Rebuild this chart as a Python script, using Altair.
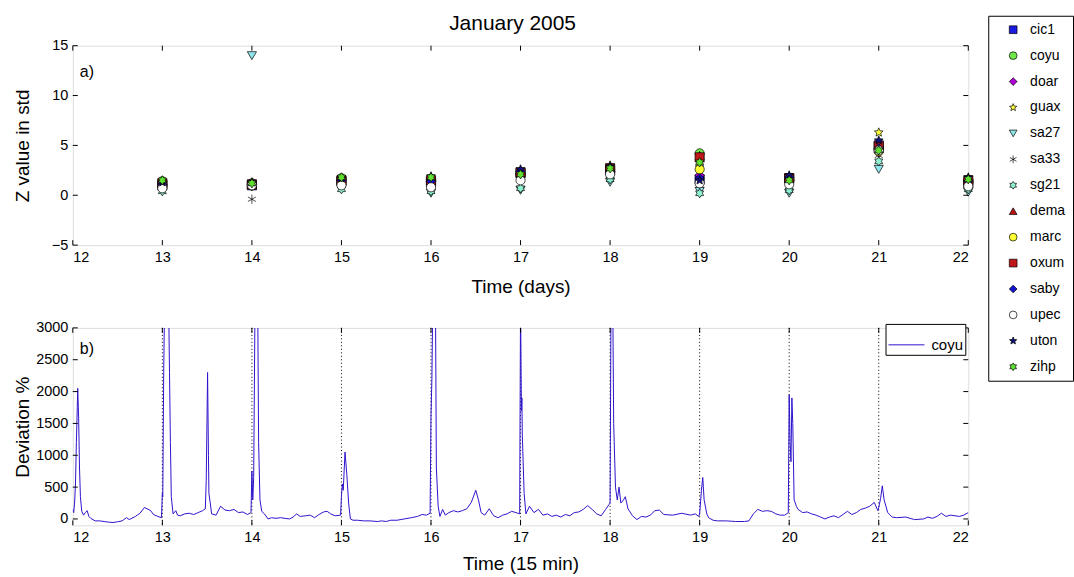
import math
import altair as alt
import pandas as pd

FONT = "Liberation Sans"

# ---------------- top panel data (Z values per station per day) ----------------
days = [13, 14, 15, 16, 17, 18, 19, 20, 21, 22]
stations = ["cic1", "coyu", "doar", "guax", "sa27", "sa33", "sg21",
            "dema", "marc", "oxum", "saby", "upec", "uton", "zihp"]
z_cic1 = [1.0, 1.0, 1.4, 1.3, 2.2, 2.5, 1.6, 1.7, 5.0, 1.2]
z_coyu = [1.4, 1.2, 1.7, 1.6, 2.1, 2.6, 4.2, 1.6, 4.6, 1.5]
z_doar = [1.1, 1.1, 1.5, 1.5, 2.2, 2.4, 2.0, 1.5, 4.3, 1.3]
z_guax = [1.2, 1.1, 1.6, 1.7, 2.4, 3.0, 2.8, 1.8, 6.3, 1.6]
z_sa27 = [0.8, 14.0, 0.7, 0.2, 0.5, 1.3, 0.4, 0.2, 2.6, 0.3]
z_sa33 = [0.9, -0.4, 1.0, 0.9, 1.8, 2.0, 1.0, 1.2, 4.0, 1.0]
z_sg21 = [0.4, 0.9, 0.6, 0.4, 0.7, 1.6, 0.2, 0.5, 3.4, 0.6]
z_dema = [1.3, 1.2, 1.6, 1.8, 2.5, 2.8, 4.0, 1.9, 5.2, 1.7]
z_marc = [1.0, 1.0, 1.4, 1.4, 2.0, 2.3, 2.6, 1.5, 4.4, 1.3]
z_oxum = [1.2, 1.1, 1.5, 1.5, 2.3, 2.7, 3.8, 1.7, 4.9, 1.5]
z_saby = [1.1, 1.1, 1.5, 1.4, 2.4, 2.4, 1.7, 1.8, 4.7, 1.4]
z_upec = [0.7, 1.0, 1.0, 0.8, 1.5, 2.1, 1.2, 1.1, 4.5, 0.9]
z_uton = [1.3, 1.3, 1.7, 1.9, 2.6, 2.9, 1.5, 2.0, 5.5, 1.8]
z_zihp = [1.5, 1.2, 1.8, 1.8, 2.1, 2.7, 3.3, 1.5, 4.5, 1.6]
z_all = [z_cic1, z_coyu, z_doar, z_guax, z_sa27, z_sa33, z_sg21,
         z_dema, z_marc, z_oxum, z_saby, z_upec, z_uton, z_zihp]

# ---------------- bottom panel data (coyu deviation %, 15-min) ----------------
t_d12 = [12.00, 12.01, 12.02, 12.03, 12.04, 12.05, 12.055, 12.065, 12.075, 12.085, 12.10, 12.12, 12.14, 12.16, 12.18,
         12.20, 12.25, 12.30, 12.35, 12.40, 12.45, 12.50, 12.55, 12.60, 12.63, 12.70, 12.75, 12.80, 12.83, 12.87, 12.90, 12.95, 12.99]
v_d12 = [150, 100, 250, 550, 1200, 1750, 2050, 1600, 800, 350, 120, 60, 100, 130, 40,
         10, -30, -30, -40, -50, -55, -45, -30, 20, -10, 40, 90, 180, 160, 130, 70, 40, 20]
t_d13 = [13.00, 13.005, 13.015, 13.025, 13.07, 13.08, 13.09, 13.10, 13.12, 13.15, 13.17, 13.20, 13.25, 13.30, 13.35, 13.40,
         13.45, 13.48, 13.49, 13.50, 13.505, 13.515, 13.52, 13.535, 13.55, 13.60, 13.65, 13.70, 13.75, 13.80, 13.85, 13.90, 13.95, 13.99]
v_d13 = [400, 350, 2300, 3400, 3400, 2300, 1200, 350, 80, 130, 60, 50, 80, 90, 70, 100,
         130, 160, 600, 1700, 2300, 1000, 400, 250, 80, 60, 200, 140, 130, 150, 100, 110, 70, 100]
t_d14 = [14.00, 14.01, 14.02, 14.035, 14.065, 14.075, 14.09, 14.11, 14.14, 14.18, 14.22, 14.27, 14.32, 14.37,
         14.42, 14.46, 14.50, 14.54, 14.60, 14.65, 14.70, 14.75, 14.80, 14.84, 14.88, 14.93, 14.99]
v_d14 = [750, 300, 650, 3400, 3400, 1200, 300, 120, 80, 0, 20, 10, 20, 10,
         0, 30, 80, 40, 50, 60, 20, 70, 110, 120, 80, 50, 60]
t_d15 = [15.00, 15.01, 15.02, 15.04, 15.06, 15.08, 15.10, 15.13, 15.18, 15.25, 15.32, 15.40, 15.45, 15.50,
         15.55, 15.62, 15.70, 15.78, 15.85, 15.90, 15.95, 15.99]
v_d15 = [350, 550, 450, 1050, 700, 250, 0, -20, -20, -30, -30, -40, -30, -40,
         -20, -20, 0, 20, 40, 70, 60, 90]
t_d16 = [16.00, 16.01, 16.02, 16.05, 16.06, 16.08, 16.10, 16.13, 16.16, 16.20, 16.25, 16.30, 16.35, 16.40,
         16.45, 16.50, 16.53, 16.56, 16.60, 16.65, 16.70, 16.75, 16.80, 16.85, 16.90, 16.95, 16.99]
v_d16 = [1600, 2200, 3400, 3400, 800, 200, 40, 150, 60, 100, 130, 110, 130, 160,
         260, 450, 300, 100, 60, 160, 50, 20, 60, 80, 120, 100, 80]
t_d17 = [17.00, 17.01, 17.015, 17.02, 17.04, 17.06, 17.10, 17.15, 17.20, 17.25, 17.30, 17.35, 17.40, 17.45,
         17.50, 17.55, 17.60, 17.65, 17.70, 17.75, 17.80, 17.85, 17.90, 17.95, 17.99]
v_d17 = [3400, 1700, 1900, 1300, 400, 80, 200, 100, 150, 60, 80, 40, 60, 30,
         70, 50, 100, 110, 150, 210, 150, 80, 50, 150, 230]
t_d18 = [18.00, 18.01, 18.03, 18.04, 18.06, 18.08, 18.10, 18.12, 18.15, 18.17, 18.20, 18.25, 18.30, 18.35,
         18.40, 18.45, 18.50, 18.55, 18.60, 18.70, 18.80, 18.90, 18.95, 18.99]
v_d18 = [250, 3400, 3400, 1500, 500, 300, 500, 250, 300, 350, 160, 50, -10, 40,
         30, 60, 130, 140, 70, 60, 90, 60, 80, 40]
t_d19 = [19.00, 19.02, 19.035, 19.05, 19.08, 19.10, 19.15, 19.20, 19.30, 19.40, 19.50, 19.55, 19.60, 19.65,
         19.70, 19.75, 19.80, 19.85, 19.90, 19.95, 19.99]
v_d19 = [80, 450, 650, 300, 80, 20, -20, -30, -30, -40, -40, -30, 80, 150,
         120, 130, 120, 80, 60, 60, 100]
t_d20 = [20.00, 20.01, 20.02, 20.03, 20.04, 20.055, 20.08, 20.10, 20.15, 20.20, 20.25, 20.30, 20.35, 20.40,
         20.45, 20.50, 20.55, 20.60, 20.65, 20.70, 20.75, 20.80, 20.85, 20.90, 20.95, 20.99]
v_d20 = [1950, 1200, 900, 1900, 1500, 300, 200, 150, 100, 110, 80, 60, 30, 0,
         30, 50, 20, 70, 120, 70, 100, 150, 170, 200, 260, 130]
t_d21 = [21.00, 21.02, 21.04, 21.06, 21.10, 21.15, 21.20, 21.30, 21.40, 21.50, 21.55, 21.60, 21.65, 21.70,
         21.75, 21.80, 21.90, 21.95, 22.00]
v_d21 = [180, 320, 520, 300, 100, 30, 20, 30, -10, 0, 30, 10, 40, 90,
         40, 60, 40, 60, 100]

x_ticks = [12, 13, 14, 15, 16, 17, 18, 19, 20, 21, 22]
z_ticks = [-5, 0, 5, 10, 15]
dev_ticks = [0, 500, 1000, 1500, 2000, 2500, 3000]
day_lines = [13, 14, 15, 16, 17, 18, 19, 20, 21]
title_text = ["January 2005"]

# ---------------- styles ----------------
W, H1, H2 = 898, 200, 198


def star_path(n, r_in):
    pts = []
    for k in range(2 * n):
        a = math.radians(-90 + k * 180.0 / n)
        r = 1.0 if k % 2 == 0 else r_in
        pts.append(f"{r * math.cos(a):.3f},{r * math.sin(a):.3f}")
    return "M" + "L".join(pts) + "Z"


STAR5 = star_path(5, 0.45)
HEX6 = star_path(6, 0.6)
ASTER = "M0,-1L0,1M-0.87,-0.5L0.87,0.5M-0.87,0.5L0.87,-0.5"

shapes = ["square", "circle", "diamond", STAR5, "triangle-down", ASTER, HEX6,
          "triangle-up", "circle", "square", "diamond", "circle", STAR5, HEX6]
colors = ["#1a1ae0", "#6fe84a", "#b000d8", "#ffff3a", "#8fe6ea", "#000000", "#8ff0d2",
          "#b81414", "#ffff33", "#c01818", "#1414d0", "#ffffff", "#10107a", "#5fe030"]
edges = ["black"] * len(stations)
line_color = "#2d14cc"

rows = []
i = 0
for s, zs in zip(stations, z_all):
    for d, z in zip(days, zs):
        rows.append({"station": s, "day": d, "z": z, "idx": i})
        i += 1
pts_df = pd.DataFrame(rows)

t_all = t_d12 + t_d13 + t_d14 + t_d15 + t_d16 + t_d17 + t_d18 + t_d19 + t_d20 + t_d21
v_all = v_d12 + v_d13 + v_d14 + v_d15 + v_d16 + v_d17 + v_d18 + v_d19 + v_d20 + v_d21
dev_df = pd.DataFrame({"t": t_all, "dev": v_all, "series": ["coyu"] * len(t_all)})

xt_df = pd.DataFrame({"t": x_ticks})
zt_df = pd.DataFrame({"v": z_ticks})
dt_df = pd.DataFrame({"v": dev_ticks})
dl_df = pd.DataFrame({"t": day_lines})

xscale = alt.Scale(domain=[12, 22], nice=False, zero=False)
zscale = alt.Scale(domain=[-5, 15], nice=False, zero=False)
dscale = alt.Scale(domain=[-100, 3000], nice=False, zero=False)

axis_common = dict(ticks=False, domain=False, grid=False, labelFontSize=14.5, labelColor="black",
                   titleFontSize=19, titleFontWeight="normal", titleColor="black", labelFont=FONT,
                   titleFont=FONT, labelPadding=5, format="d")

x_axis_top = alt.Axis(values=x_ticks, title="Time (days)", titlePadding=14, **axis_common)
x_axis_bot = alt.Axis(values=x_ticks, title="Time (15 min)", titlePadding=11, **axis_common)
z_axis = alt.Axis(values=z_ticks, title="Z value in std", titleX=-50, titleBaseline="middle", **axis_common)
d_axis = alt.Axis(values=dev_ticks, title="Deviation %", titleX=-50, titleBaseline="middle", **axis_common)

sym_legend = alt.Legend(title=None, orient="none", legendX=918, legendY=-30,
                        strokeColor="black", fillColor="white", padding=7, cornerRadius=0,
                        labelFontSize=14, labelFont=FONT, labelColor="black",
                        symbolSize=60, symbolStrokeWidth=0.7,
                        symbolOffset=11, labelOffset=10, rowPadding=12)

points = alt.Chart(pts_df).mark_point(filled=True, size=85, strokeWidth=0.7, opacity=1).encode(
    x=alt.X("day:Q", scale=xscale, axis=x_axis_top),
    y=alt.Y("z:Q", scale=zscale, axis=z_axis),
    fill=alt.Fill("station:N", scale=alt.Scale(domain=stations, range=colors), legend=sym_legend),
    shape=alt.Shape("station:N", scale=alt.Scale(domain=stations, range=shapes), legend=sym_legend),
    stroke=alt.Stroke("station:N", scale=alt.Scale(domain=stations, range=edges), legend=sym_legend),
    order=alt.Order("idx:Q"),
)


def xtick_layers(h, ax):
    bot = alt.Chart(xt_df).mark_rule(color="black", strokeWidth=1).encode(
        x=alt.X("t:Q", scale=xscale, axis=ax), y=alt.value(h), y2=alt.value(h - 5))
    top = alt.Chart(xt_df).mark_rule(color="black", strokeWidth=1).encode(
        x=alt.X("t:Q", scale=xscale, axis=ax), y=alt.value(0), y2=alt.value(5))
    return [bot, top]


def ytick_layers(df, sc, ax):
    left = alt.Chart(df).mark_rule(color="black", strokeWidth=1).encode(
        y=alt.Y("v:Q", scale=sc, axis=ax), x=alt.value(0), x2=alt.value(5))
    right = alt.Chart(df).mark_rule(color="black", strokeWidth=1).encode(
        y=alt.Y("v:Q", scale=sc, axis=ax), x=alt.value(W), x2=alt.value(W - 5))
    return [left, right]


lab_a = alt.Chart(pd.DataFrame({"lab": ["a)"]})).mark_text(
    align="left", baseline="middle", fontSize=16, font=FONT, color="black").encode(
    x=alt.value(7), y=alt.value(26), text="lab:N")

title_mark = alt.Chart(pd.DataFrame({"lab": title_text})).mark_text(
    align="center", baseline="middle", fontSize=21, font=FONT, color="black").encode(
    x=alt.value(W / 2 - 8), y=alt.value(-22), text="lab:N")

top = alt.layer(points, *xtick_layers(H1, x_axis_top), *ytick_layers(zt_df, zscale, z_axis),
                lab_a, title_mark).properties(width=W, height=H1)

day_rules = alt.Chart(dl_df).mark_rule(color="black", strokeWidth=1, strokeDash=[1, 2.5]).encode(
    x=alt.X("t:Q", scale=xscale, axis=x_axis_bot),
)

dev_line = alt.Chart(dev_df).mark_line(clip=True, strokeWidth=1).encode(
    x=alt.X("t:Q", scale=xscale, axis=x_axis_bot),
    y=alt.Y("dev:Q", scale=dscale, axis=d_axis),
    stroke=alt.Stroke("series:N", scale=alt.Scale(domain=["coyu"], range=[line_color]),
                      legend=alt.Legend(title=None, orient="none", legendX=815, legendY=-4,
                                        strokeColor="black", fillColor="white", padding=2, cornerRadius=0,
                                        labelFontSize=15, labelFont=FONT, labelColor="black",
                                        symbolType="stroke", symbolSize=1300, symbolStrokeWidth=1,
                                        labelOffset=6)),
)

lab_b = alt.Chart(pd.DataFrame({"lab": ["b)"]})).mark_text(
    align="left", baseline="middle", fontSize=16, font=FONT, color="black").encode(
    x=alt.value(7), y=alt.value(21), text="lab:N")

bottom = alt.layer(day_rules, dev_line, *xtick_layers(H2, x_axis_bot), *ytick_layers(dt_df, dscale, d_axis),
                   lab_b).properties(width=W, height=H2)

chart = alt.vconcat(top, bottom, spacing=83, bounds="flush").resolve_scale(
    stroke="independent"
).resolve_legend(
    fill="independent", shape="independent", stroke="independent"
).configure_view(stroke="black", strokeWidth=1).configure_axis(grid=False).configure(
    font=FONT, padding={"left": 13, "top": 11, "right": 0, "bottom": 0}, background="white"
)

chart.save("out.html", embed_options={"renderer": "svg", "actions": False})
